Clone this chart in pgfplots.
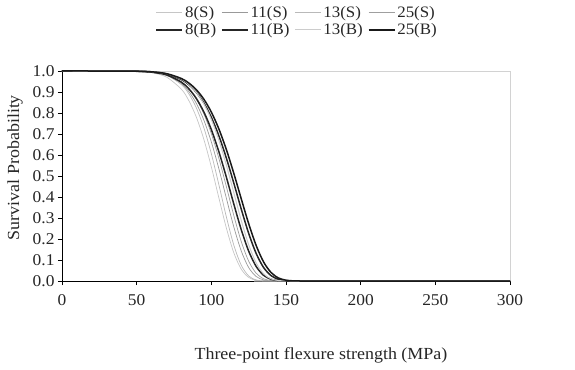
\documentclass[border=0pt]{standalone}
\usepackage{pgfplots}
\pgfplotsset{compat=1.18}
\usepackage{fontspec}
\setmainfont{Liberation Serif}[FakeStretch=1.06]
\begin{document}
\begin{tikzpicture}
\useasboundingbox (-62bp,-89bp) rectangle (513bp,281bp);
\begin{axis}[
  scale only axis, width=448bp, height=210bp,
  xmin=0, xmax=300, ymin=0, ymax=1,
  axis lines=left,
  axis line style={-, black, line width=0.8bp},
  tick style={black, line width=0.6bp},
  major tick length=4bp,
  tick align=outside,
  xtick={0,50,100,150,200,250,300},
  ytick={0,0.1,0.2,0.3,0.4,0.5,0.6,0.7,0.8,0.9,1.0},
  yticklabel style={/pgf/number format/.cd, fixed, fixed zerofill, precision=1},
  xticklabel style={yshift=-6bp},
  /pgf/number format/assume math mode=true,
  tick label style={font=\fontsize{16.5}{18}\selectfont, text=black!85},
  label style={font=\fontsize{17}{19}\selectfont, text=black!85},
  xlabel={Three-point flexure strength (MPa)},
  ylabel={Survival Probability},
  xlabel style={at={(axis description cs:0.578,-0.352)}, anchor=center},
  ylabel style={at={(axis description cs:-0.105,0.54)}, anchor=center},
  legend columns=4,
  legend cell align=left,
  legend style={draw=none, fill=none, at={(axis description cs:0.525,1.238)}, anchor=center,
    font=\fontsize{16}{17}\selectfont, text=black!85,
    /tikz/every even column/.append style={column sep=3bp},
    row sep=1bp},
  legend image code/.code={\draw[#1] (0bp,0bp) -- (26bp,0bp);},
  clip=false,
]
\draw[gray!35, line width=0.6bp] (rel axis cs:0,1) -- (rel axis cs:1,1) -- (rel axis cs:1,0);
% 8(S)
\addplot[smooth, gray!45, line width=0.7bp] table {
x y
0 1.0
40 0.9997
50 0.9983
60 0.9921
70 0.9710
80 0.9127
85 0.8580
90 0.7796
95 0.6742
100 0.5435
105 0.3973
110 0.2540
115 0.1354
120 0.0566
125 0.0172
130 0.0035
135 0.0004
140 0.0
300 0.0
};
\addlegendentry{8(S)}
% 11(S)
\addplot[smooth, gray!80, line width=0.7bp] table {
x y
0 1.0
40 0.9998
50 0.9989
60 0.9947
70 0.9803
80 0.9401
85 0.9017
90 0.8452
95 0.7661
100 0.6623
105 0.5359
110 0.3961
115 0.2589
120 0.1436
125 0.0642
130 0.0217
135 0.0051
140 0.0008
145 0.0
300 0.0
};
\addlegendentry{11(S)}
% 13(S)
\addplot[smooth, gray!55, line width=0.7bp] table {
x y
0 1.0
40 0.9999
50 0.9990
60 0.9950
70 0.9800
80 0.9351
85 0.8906
90 0.8238
95 0.7295
100 0.6062
105 0.4600
110 0.3073
115 0.1721
120 0.0755
125 0.0240
130 0.0050
135 0.0006
140 0.0
300 0.0
};
\addlegendentry{13(S)}
% 25(S)
\addplot[smooth, gray!75, line width=0.7bp] table {
x y
0 1.0
40 0.9999
50 0.9990
60 0.9954
70 0.9831
80 0.9483
85 0.9149
90 0.8655
95 0.7955
100 0.7020
105 0.5852
110 0.4514
115 0.3133
120 0.1888
125 0.0946
130 0.0372
135 0.0107
140 0.0021
145 0.0002
150 0.0
300 0.0
};
\addlegendentry{25(S)}
% 8(B)
\addplot[smooth, black!85, line width=1.5bp] table {
x y
0 1.0
40 0.9998
50 0.9987
60 0.9945
70 0.9813
80 0.9466
85 0.9148
90 0.8688
95 0.8049
100 0.7211
105 0.6168
110 0.4961
115 0.3679
120 0.2451
125 0.1425
130 0.0695
135 0.0271
140 0.0080
145 0.0017
150 0.0002
155 0.0
300 0.0
};
\addlegendentry{8(B)}
% 11(B)
\addplot[smooth, black!85, line width=1.5bp] table {
x y
0 1.0
40 0.9998
50 0.9990
60 0.9958
70 0.9858
80 0.9591
85 0.9344
90 0.8984
95 0.8479
100 0.7797
105 0.6924
110 0.5867
115 0.4674
120 0.3432
125 0.2271
130 0.1316
135 0.0642
140 0.0255
145 0.0078
150 0.0017
155 0.0003
160 0.0
300 0.0
};
\addlegendentry{11(B)}
% 13(B)
\addplot[smooth, gray!40, line width=1.0bp] table {
x y
0 1.0
40 0.9999
50 0.9993
60 0.9966
70 0.9874
80 0.9613
85 0.9360
90 0.8981
95 0.8435
100 0.7686
105 0.6713
110 0.5532
115 0.4218
120 0.2894
125 0.1730
130 0.0866
135 0.0342
140 0.0101
145 0.0021
150 0.0003
155 0.0
300 0.0
};
\addlegendentry{13(B)}
% 25(B)
\addplot[smooth, black!90, line width=1.5bp] table {
x y
0 1.0
40 0.9999
50 0.9991
60 0.9963
70 0.9875
80 0.9641
85 0.9424
90 0.9106
95 0.8655
100 0.8044
105 0.7249
110 0.6271
115 0.5140
120 0.3922
125 0.2734
130 0.1696
135 0.0906
140 0.0404
145 0.0143
150 0.0038
155 0.0007
160 0.0
300 0.0
};
\addlegendentry{25(B)}
\end{axis}
\end{tikzpicture}
\end{document}
